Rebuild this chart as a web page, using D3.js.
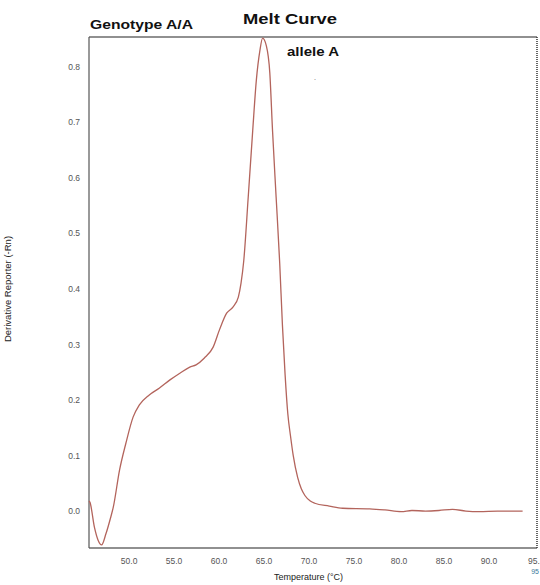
<!DOCTYPE html>
<html>
<head>
    <title>Melt Curve</title>
    <script src="https://d3js.org/d3.v7.min.js"></script>
    <style>
        body { margin: 0; background: #fff; }
        svg { display: block; font-family: "Liberation Sans", Arial, sans-serif; }
        .tick-label { fill: #555; font-size: 8.5px; }
        .melt { fill: none; stroke: #b3645c; stroke-width: 1.3px; }
    </style>
</head>
<body>
<script>
    // Melt curve readings (temperature in C, derivative reporter -Rn)
    const temps = [45.6, 45.7, 46.2, 46.6, 47.0, 47.5, 48.0, 48.3, 49.0, 49.7,
        50.5, 51.2, 52.3, 53.4, 54.6, 55.7, 56.8, 57.5, 58.4, 59.4,
        60.1, 60.9, 61.6, 62.2, 62.5, 62.8, 63.3, 63.8, 64.2, 64.6,
        64.9, 65.3, 65.7, 66.0, 66.4, 66.8, 67.1, 67.4, 67.7, 68.0,
        68.3, 68.8, 69.2, 69.6, 70.2, 70.7, 72.3, 73.8, 76.8, 78.5,
        80.3, 81.5, 83.0, 84.5, 86.0, 87.5, 89.0, 91.0, 93.8];
    const derivative = [0.018, 0.016, -0.029, -0.052, -0.061, -0.040, -0.012, 0.007, 0.074, 0.122,
        0.169, 0.191, 0.209, 0.221, 0.236, 0.248, 0.259, 0.263, 0.275, 0.295,
        0.326, 0.356, 0.367, 0.385, 0.410, 0.450, 0.565, 0.685, 0.775, 0.829,
        0.851, 0.838, 0.788, 0.685, 0.565, 0.446, 0.335, 0.245, 0.175, 0.135,
        0.100, 0.060, 0.040, 0.028, 0.018, 0.014, 0.009, 0.005, 0.004, 0.002,
        -0.001, 0.001, 0.000, 0.001, 0.003, 0.000, -0.001, 0.000, 0.000];
    const xTicks = [50, 55, 60, 65, 70, 75, 80, 85, 90, 95];
    const yTicks = [0.0, 0.1, 0.2, 0.3, 0.4, 0.5, 0.6, 0.7, 0.8];

    const width = 540, height = 585;
    const plot = { left: 89, top: 37, right: 537, bottom: 548 };

    const svg = d3.select("body").append("svg")
        .attr("width", width)
        .attr("height", height);

    const x = d3.scaleLinear().domain([45.6, 95.4]).range([plot.left, plot.right]);
    const y = d3.scaleLinear().domain([-0.0665, 0.853]).range([plot.bottom, plot.top]);

    // frame: solid top/left/bottom, dotted right edge
    svg.append("line").attr("x1", plot.left).attr("x2", plot.right)
        .attr("y1", plot.top).attr("y2", plot.top)
        .attr("stroke", "#222").attr("stroke-width", 1.2);
    svg.append("line").attr("x1", plot.left).attr("x2", plot.right)
        .attr("y1", plot.bottom).attr("y2", plot.bottom)
        .attr("stroke", "#222").attr("stroke-width", 1.2);
    svg.append("line").attr("x1", plot.left).attr("x2", plot.left)
        .attr("y1", plot.top).attr("y2", plot.bottom)
        .attr("stroke", "#555").attr("stroke-width", 1.2);
    svg.append("line").attr("x1", plot.right).attr("x2", plot.right)
        .attr("y1", plot.top).attr("y2", plot.bottom)
        .attr("stroke", "#333").attr("stroke-width", 1.5)
        .attr("stroke-dasharray", "1,1");

    // axes (labels only, no tick marks)
    const yAxis = d3.axisLeft(y).tickValues(yTicks).tickFormat(d3.format(".1f"))
        .tickSize(0).tickPadding(9);
    svg.append("g").attr("transform", `translate(${plot.left},0)`).call(yAxis)
        .call(g => g.select(".domain").remove())
        .call(g => g.selectAll("text").attr("class", "tick-label").attr("font-family", null).attr("font-size", null));

    const xAxis = d3.axisBottom(x).tickValues(xTicks)
        .tickFormat(d => d === 95 ? "95." : d3.format(".1f")(d))
        .tickSize(0).tickPadding(10);
    svg.append("g").attr("transform", `translate(0,${plot.bottom})`).call(xAxis)
        .call(g => g.select(".domain").remove())
        .call(g => g.selectAll("text").attr("class", "tick-label").attr("font-family", null).attr("font-size", null))
        .call(g => g.selectAll(".tick").filter(d => d === 95).select("text").attr("text-anchor", "end").attr("x", 6));

    // small blue end-temperature marker under the last tick
    svg.append("text").attr("x", 539).attr("y", 574)
        .attr("text-anchor", "end")
        .attr("font-size", 7).attr("fill", "#3a7a9a").text("95");

    // melt curve
    const points = temps.map((t, i) => [t, derivative[i]]);
    const line = d3.line().x(d => x(d[0])).y(d => y(d[1])).curve(d3.curveMonotoneX);
    svg.append("path").datum(points).attr("class", "melt").attr("d", line);

    // titles
    svg.append("text").attr("x", 243).attr("y", 24)
        .attr("font-size", 14).attr("font-weight", "bold").attr("fill", "#111")
        .attr("textLength", 94).attr("lengthAdjust", "spacingAndGlyphs")
        .text("Melt Curve");
    svg.append("text").attr("x", 90).attr("y", 29)
        .attr("font-size", 13).attr("font-weight", "bold").attr("fill", "#111")
        .attr("textLength", 103).attr("lengthAdjust", "spacingAndGlyphs")
        .text("Genotype A/A");
    svg.append("text").attr("x", 287).attr("y", 56)
        .attr("font-size", 13).attr("font-weight", "bold").attr("fill", "#111")
        .attr("textLength", 52).attr("lengthAdjust", "spacingAndGlyphs")
        .text("allele A");
    svg.append("text").attr("x", 314).attr("y", 80)
        .attr("font-size", 7).attr("fill", "#555").text(".");

    // axis titles
    svg.append("text").attr("x", x(70)).attr("y", 580)
        .attr("text-anchor", "middle").attr("font-size", 9).attr("fill", "#222")
        .text("Temperature (°C)");
    svg.append("text")
        .attr("transform", `translate(11,${289}) rotate(-90)`)
        .attr("text-anchor", "middle").attr("font-size", 9.5).attr("fill", "#222")
        .text("Derivative Reporter (-Rn)");
</script>
</body>
</html>
